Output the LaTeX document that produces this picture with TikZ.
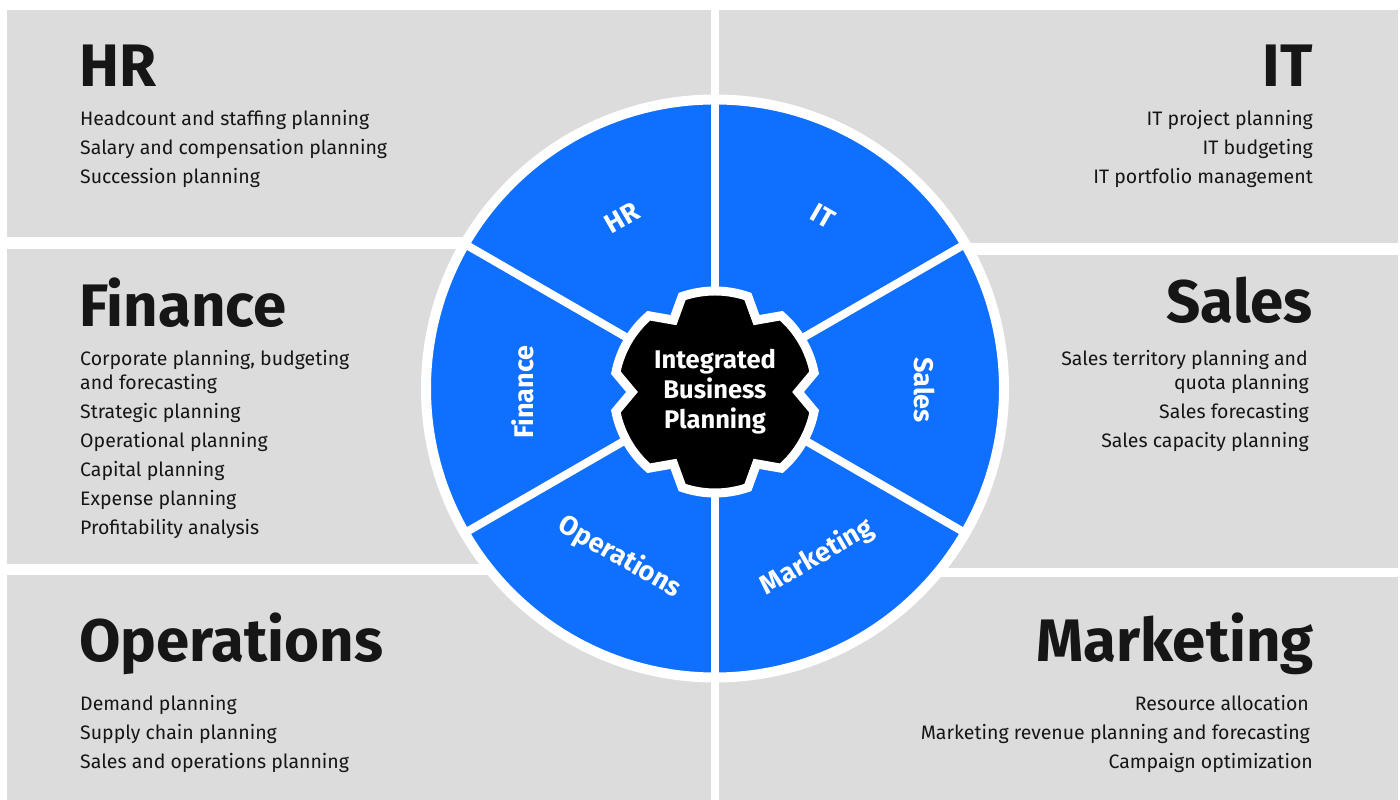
\documentclass[tikz,border=0pt]{standalone}
\usepackage{fontspec}
\setmainfont{Fira Sans}
\definecolor{panelgray}{HTML}{DCDCDC}
\definecolor{wheelblue}{HTML}{0F6FFF}
\definecolor{ink}{HTML}{161616}
\begin{document}
\begin{tikzpicture}[x=1pt,y=1pt,
  panel/.style={fill=panelgray},
  heading/.style={font=\fontsize{60}{64}\selectfont\bfseries, text=ink, inner sep=0pt},
  item/.style={font=\fontsize{19.5}{24}\selectfont, text=ink, inner sep=0pt},
  wheel/.style={fill=wheelblue, draw=white, line width=10pt},
  divider/.style={draw=white, line width=8pt},
  gear/.style={fill=black, draw=white, line width=9pt, line join=miter},
  hub/.style={font=\fontsize{25.5}{30}\selectfont\bfseries, text=white, align=center, inner sep=0pt},
  seclabel/.style={font=\fontsize{27}{30}\selectfont\bfseries, text=white, inner sep=0pt}]
\useasboundingbox (0,0) rectangle (1400,800);
\fill[white] (0,0) rectangle (1400,800);

% grey panels
\fill[panel] (7,563) rectangle (711,790);
\fill[panel] (7,236) rectangle (711,551);
\fill[panel] (7,0) rectangle (711,225);
\fill[panel] (719,557) rectangle (1398,790);
\fill[panel] (719,232) rectangle (1398,545);
\fill[panel] (719,0) rectangle (1398,223);

% wheel with six sectors
\coordinate (wc) at (715,411.5);
\draw[wheel] (wc) circle[radius=289];
\foreach \a in {30,90,150,210,270,330}
  \draw[divider] (wc) -- ++(\a:289);

% central gear
\coordinate (gc) at (715,408);
\begin{scope}[shift={(gc)}]
  \draw[gear] (11:101)
    \foreach \c in {30,90,150,210,270,330} {
      arc[start angle=\c-19, end angle=\c+19, radius=101] -- (\c+30:83) -- (\c+41:101)
    } -- cycle;
\end{scope}
\node[hub] (ibp) at (gc) {Integrated\\Business\\Planning};

% sector labels
\node[seclabel, rotate=30]  (lhr)  at (622,582) {HR};
\node[seclabel, rotate=-30] (lit)  at (823,584) {IT};
\node[seclabel, rotate=-90] (lsal) at (925,410) {Sales};
\node[seclabel, rotate=90]  (lfin) at (523,408) {Finance};
\node[seclabel, rotate=-30] (lops) at (620,243) {Operations};
\node[seclabel, rotate=30]  (lmkt) at (817,243) {Marketing};

% left panels
\node[heading, anchor=base west] (hhr) at (79,713) {HR};
\node[item, anchor=base west] (hr1) at (80,674) {Headcount and staffing planning};
\node[item, anchor=base west] (hr2) at (80,645) {Salary and compensation planning};
\node[item, anchor=base west] (hr3) at (80,616) {Succession planning};

\node[heading, anchor=base west] (hfin) at (79,473) {Finance};
\node[item, anchor=base west] (fin1) at (80,434) {Corporate planning, budgeting};
\node[item, anchor=base west] (fin1b) at (80,410) {and forecasting};
\node[item, anchor=base west] (fin2) at (80,381) {Strategic planning};
\node[item, anchor=base west] (fin3) at (80,352) {Operational planning};
\node[item, anchor=base west] (fin4) at (80,323) {Capital planning};
\node[item, anchor=base west] (fin5) at (80,294) {Expense planning};
\node[item, anchor=base west] (fin6) at (80,265) {Profitability analysis};

\node[heading, anchor=base west] (hops) at (79,138) {Operations};
\node[item, anchor=base west] (ops1) at (80,89) {Demand planning};
\node[item, anchor=base west] (ops2) at (80,60) {Supply chain planning};
\node[item, anchor=base west] (ops3) at (80,31) {Sales and operations planning};

% right panels
\node[heading, anchor=base east] (hit) at (1313,713) {IT};
\node[item, anchor=base east] (it1) at (1313,674) {IT project planning};
\node[item, anchor=base east] (it2) at (1313,645) {IT budgeting};
\node[item, anchor=base east] (it3) at (1313,616) {IT portfolio management};

\node[heading, anchor=base east] (hsal) at (1313,477) {Sales};
\node[item, anchor=base east] (sal1) at (1308,434) {Sales territory planning and};
\node[item, anchor=base east] (sal1b) at (1309,410) {quota planning};
\node[item, anchor=base east] (sal2) at (1309,381) {Sales forecasting};
\node[item, anchor=base east] (sal3) at (1309,352) {Sales capacity planning};

\node[heading, anchor=base east] (hmkt) at (1314,138) {Marketing};
\node[item, anchor=base east] (mkt1) at (1309,89) {Resource allocation};
\node[item, anchor=base east] (mkt2) at (1310,60) {Marketing revenue planning and forecasting};
\node[item, anchor=base east] (mkt3) at (1313,31) {Campaign optimization};
\end{tikzpicture}
\end{document}
